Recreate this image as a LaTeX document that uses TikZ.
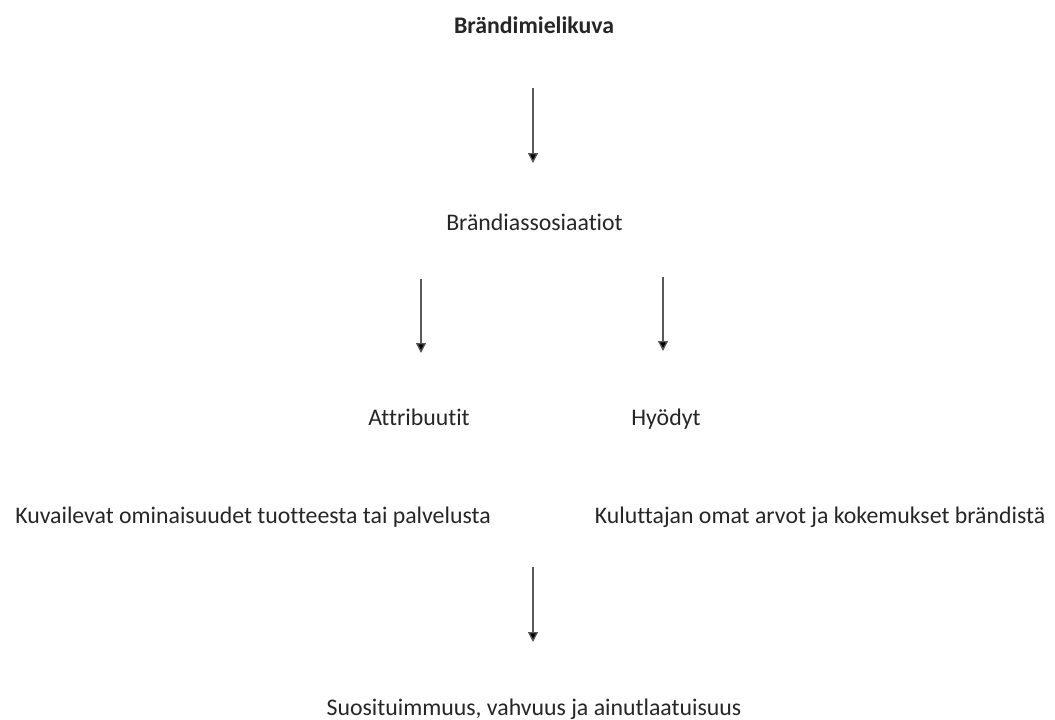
\documentclass[tikz,border=0pt]{standalone}
\usepackage{fontspec}
\setmainfont{Carlito}[Ligatures=NoCommon]
\usetikzlibrary{arrows.meta}
\begin{document}
\begin{tikzpicture}[x=1pt,y=-1pt,
  lbl/.style={inner sep=0pt,anchor=base,font=\fontsize{23.8}{28}\selectfont,text=black!85},
  arr/.style={draw=black!65,line width=1.3pt,-{Triangle[length=10pt,width=10pt,fill=black]}}]
\useasboundingbox[fill=white] (0,0) rectangle (1055,720);
\node[lbl,font=\fontsize{23.8}{28}\selectfont\bfseries] (top) at (534,34) {Brändimielikuva};
\node[lbl] (assoc) at (534.5,230) {Brändiassosiaatiot};
\node[lbl] (attr) at (419,425) {Attribuutit};
\node[lbl] (hyod) at (666,425) {Hyödyt};
\node[lbl] (kuv) at (253,523) {Kuvailevat ominaisuudet tuotteesta tai palvelusta};
\node[lbl] (kul) at (820,523) {Kuluttajan omat arvot ja kokemukset brändistä};
\node[lbl] (suo) at (534,715) {Suosituimmuus, vahvuus ja ainutlaatuisuus};
\coordinate (a1s) at (533,88);  \coordinate (a1e) at (533,163);
\coordinate (a2s) at (421,279); \coordinate (a2e) at (421,353);
\coordinate (a3s) at (663,277); \coordinate (a3e) at (663,351);
\coordinate (a4s) at (533,567); \coordinate (a4e) at (533,642);
\draw[arr] (a1s) -- (a1e);
\draw[arr] (a2s) -- (a2e);
\draw[arr] (a3s) -- (a3e);
\draw[arr] (a4s) -- (a4e);
\end{tikzpicture}
\end{document}
